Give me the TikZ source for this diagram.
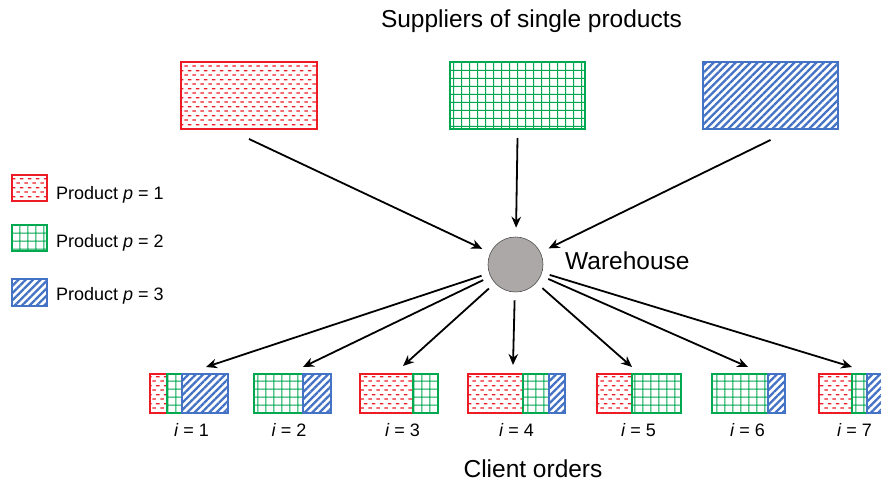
\documentclass[tikz,border=0pt]{standalone}
\usepackage{fontspec}
\setmainfont{Liberation Sans}
\usetikzlibrary{patterns.meta,arrows.meta}
\definecolor{pred}{RGB}{237,28,36}
\definecolor{pgreen}{RGB}{0,168,80}
\definecolor{pblue}{RGB}{68,114,196}
\definecolor{wgray}{RGB}{172,168,168}
\definecolor{wedge}{RGB}{80,80,80}
\tikzdeclarepattern{
  name=reddash,
  type=uncolored,
  bounding box={(0pt,0pt) and (8pt,9pt)},
  tile size={(8pt,9pt)},
  code={
    \draw[line width=1.4pt] (0.3pt,2.25pt) -- (4.2pt,2.25pt) (4.3pt,6.75pt) -- (8.2pt,6.75pt);
  }
}
\tikzdeclarepattern{
  name=greengrid,
  type=uncolored,
  bounding box={(0pt,0pt) and (8.2pt,8.2pt)},
  tile size={(8.2pt,8.2pt)},
  code={
    \draw[line width=1.1pt] (-1pt,4.1pt) -- (9.2pt,4.1pt) (4.1pt,-1pt) -- (4.1pt,9.2pt);
  }
}
\newcommand\patbox[6]{\node[#1, minimum width={#4-#3}, minimum height={#6-#5}] (#2) at (#3,#5) {};}
\tikzset{
  segbox/.style={draw, inner sep=0pt, outer sep=0pt, anchor=north west, line width=1.2pt},
  rp/.style={segbox, draw=pred, pattern=reddash, pattern color=pred},
  gp/.style={segbox, draw=pgreen, pattern=greengrid, pattern color=pgreen},
  bp/.style={segbox, draw=pblue, pattern={Lines[angle=45,distance=5.2pt,line width=2.3pt]}, pattern color=pblue},
  conn/.style={-{Stealth[length=11pt,width=9.5pt]}, line width=1.8pt},
  big/.style={font=\fontsize{24.5}{29}\selectfont, inner sep=0pt},
  small/.style={font=\fontsize{18}{21}\selectfont, inner sep=0pt}
}
\begin{document}
\begin{tikzpicture}[x=1pt,y=-1pt]
\useasboundingbox (0,0) rectangle (881,482);
% titles
\node[big, anchor=base] (title) at (531.5,27) {Suppliers of single products};
\node[big, anchor=base] (client) at (533,477) {Client orders};
% suppliers
\patbox{rp}{s1}{181}{317}{62}{129}
\patbox{gp}{s2}{450}{585}{62}{129}
\patbox{bp}{s3}{703}{838}{62}{129}
% warehouse
\node[circle, draw=wedge, fill=wgray, minimum size=55pt, inner sep=0pt, line width=0.6pt] (wh) at (515.5,264.5) {};
\node[big, anchor=base west] (whl) at (565,269) {Warehouse};
% legend
\patbox{rp}{k1}{12}{47}{175}{201}
\patbox{gp}{k2}{12}{47}{225}{251}
\patbox{bp}{k3}{12}{47}{279}{306}
\node[small, anchor=base west] (k1t) at (56,199) {Product \textit{p} = 1};
\node[small, anchor=base west] (k2t) at (56,247) {Product \textit{p} = 2};
\node[small, anchor=base west] (k3t) at (56,300) {Product \textit{p} = 3};
% client orders
\patbox{rp}{c1a}{150}{167}{374}{413}
\patbox{gp}{c1b}{167}{182}{374}{413}
\patbox{bp}{c1c}{182}{228}{374}{413}
\patbox{gp}{c2a}{254}{303}{374}{413}
\patbox{bp}{c2b}{303}{331}{374}{413}
\patbox{rp}{c3a}{360}{413}{374}{413}
\patbox{gp}{c3b}{413}{438}{374}{413}
\patbox{rp}{c4a}{468}{523}{374}{413}
\patbox{gp}{c4b}{523}{549}{374}{413}
\patbox{bp}{c4c}{549}{565}{374}{413}
\patbox{rp}{c5a}{597}{632}{374}{413}
\patbox{gp}{c5b}{632}{681}{374}{413}
\patbox{gp}{c6a}{712}{768}{374}{413}
\patbox{bp}{c6b}{768}{785}{374}{413}
\patbox{rp}{c7a}{819}{852}{374}{413}
\patbox{gp}{c7b}{852}{867}{374}{413}
\patbox{bp}{c7c}{867}{886}{374}{413}
% labels
\node[small, anchor=base] (l1) at (191.5,436) {\textit{i} = 1};
\node[small, anchor=base] (l2) at (289,436) {\textit{i} = 2};
\node[small, anchor=base] (l3) at (402.5,436) {\textit{i} = 3};
\node[small, anchor=base] (l4) at (516.5,436) {\textit{i} = 4};
\node[small, anchor=base] (l5) at (638.5,436) {\textit{i} = 5};
\node[small, anchor=base] (l6) at (747.5,436) {\textit{i} = 6};
\node[small, anchor=base] (l7) at (854.5,436) {\textit{i} = 7};
% arrow targets
\coordinate (t1) at (206,367);
\coordinate (t2) at (303,367);
\coordinate (t3) at (403,366);
\coordinate (t4) at (513,365);
\coordinate (t5) at (632,367);
\coordinate (t6) at (748,367);
\coordinate (t7) at (852,367);
% connectors
\draw[conn, shorten >=9pt] ([yshift=-10pt]s1.south) -- (wh);
\draw[conn, shorten >=9pt] ([yshift=-9pt]s2.south) -- (wh);
\draw[conn, shorten >=9pt] ([yshift=-11pt]s3.south) -- (wh);
\foreach \k in {1,...,7}{\draw[conn, shorten <=8pt] (wh) -- (t\k);}
\end{tikzpicture}
\end{document}
